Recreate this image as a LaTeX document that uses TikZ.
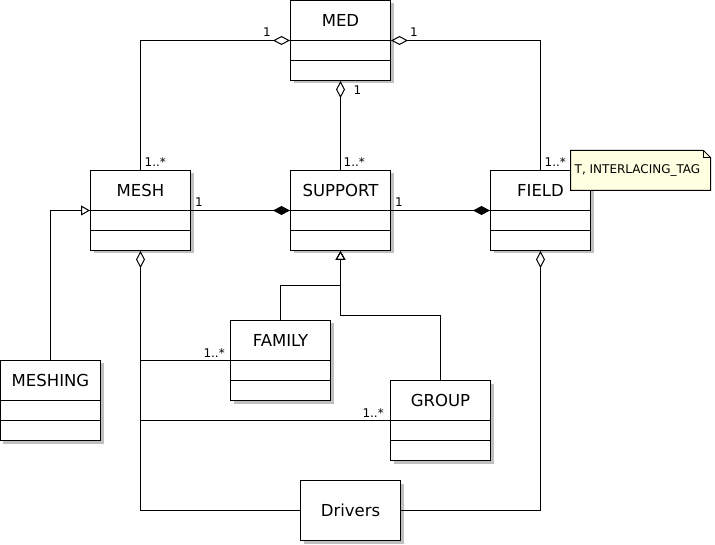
\documentclass[tikz,border=0pt]{standalone}
\usepackage{fontspec}
\setmainfont{DejaVu Sans}
\usepackage{xcolor}
\usepackage{tikz}
\usetikzlibrary{arrows.meta,positioning,calc,shadows}
\definecolor{noteyellow}{RGB}{255,255,225}
\definecolor{shadowgray}{RGB}{192,192,192}

\tikzset{
  classbox/.style={draw, fill=white, line width=1pt, minimum width=100pt, minimum height=80pt, inner sep=0pt,
    drop shadow={shadow xshift=3pt, shadow yshift=-3pt, fill=shadowgray, opacity=1}},
  driverbox/.style={classbox, minimum height=60pt, font=\fontsize{16.5}{18}\selectfont},
  classname/.style={font=\fontsize{16.5}{18}\selectfont, inner sep=0pt},
  mult/.style={font=\fontsize{12}{13}\selectfont, inner sep=1pt},
  aggr/.style={line width=1pt, -{Diamond[open, length=17pt, width=9pt]}},
  comp/.style={line width=1pt, -{Diamond[length=17pt, width=9pt]}},
  gen/.style={line width=1pt, -{Triangle[open, length=9pt, width=10pt]}},
}

\newcommand{\umlclass}[4]{%
  \node[classbox] (#1) at (#2,#3) {};
  \draw[line width=1pt] (#1.west) -- (#1.east);
  \draw[line width=1pt] ($(#1.west)+(0,20)$) -- ($(#1.east)+(0,20)$);
  \node[classname] (#1name) at ($(#1.center)+(0,-20)$) {#4};
}

\begin{document}
\begin{tikzpicture}[x=1pt, y=-1pt]
\useasboundingbox (-0.5,-0.5) rectangle (714.5,544.5);

\umlclass{med}{340}{40}{MED}
\umlclass{mesh}{140}{210}{MESH}
\umlclass{support}{340}{210}{SUPPORT}
\umlclass{field}{540}{210}{FIELD}
\umlclass{family}{280}{360}{FAMILY}
\umlclass{group}{440}{420}{GROUP}
\umlclass{meshing}{50}{400}{MESHING}
\node[driverbox] (drivers) at (350,510) {Drivers};

\draw[aggr] (mesh.north) |- (med.west);
\draw[aggr] (field.north) |- (med.east);
\draw[aggr] (support.north) -- (med.south);
\draw[comp] (mesh.east) -- (support.west);
\draw[comp] (support.east) -- (field.west);

\draw[gen] (meshing.north) |- (mesh.west);
\draw[gen] (family.north) |- ($(support.south)+(0,35)$) -- (support.south);
\draw[gen] (group.north) |- ($(support.south)+(0,65)$) -- (support.south);

\draw[line width=1pt, {Diamond[open, length=17pt, width=9pt]}-] (mesh.south) |- (drivers.west);
\draw[line width=1pt, {Diamond[open, length=17pt, width=9pt]}-] (field.south) |- (drivers.east);
\draw[line width=1pt] (mesh.south |- family.west) -- (family.west);
\draw[line width=1pt] (mesh.south |- group.west) -- (group.west);

\node[mult, above left=3pt and 18pt of med.west] (medmeshm) {1};
\node[mult, above right=3pt and 18pt of med.east] (medfieldm) {1};
\node[mult, below right=4pt and 12pt of med.south] (medsuppm) {1};
\node[mult, above right=2pt and 3pt of mesh.north] (meshm) {1..*};
\node[mult, above right=2pt and 2pt of support.north] (suppm) {1..*};
\node[mult, above right=2pt and 3pt of field.north] (fieldm) {1..*};
\node[mult, above right=3pt and 3pt of mesh.east] (meshsuppm) {1};
\node[mult, above right=3pt and 3pt of support.east] (suppfieldm) {1};
\node[mult, above left=2pt and 4pt of family.west] (familym) {1..*};
\node[mult, above left=2pt and 5pt of group.west] (groupm) {1..*};

\coordinate (notenw) at (570,150);
\coordinate (notese) at (710,190);
\fill[shadowgray, xshift=3pt, yshift=-3pt] (notenw) -- ($(notenw -| notese)+(-7,0)$) -- ($(notenw -| notese)+(0,7)$) -- (notese) -- (notese -| notenw) -- cycle;
\filldraw[fill=noteyellow, line width=1pt] (notenw) -- ($(notenw -| notese)+(-7,0)$) -- ($(notenw -| notese)+(0,7)$) -- (notese) -- (notese -| notenw) -- cycle;
\draw[line width=0.6pt] ($(notenw -| notese)+(-7,0)$) -- ($(notenw -| notese)+(-7,7)$) -- ($(notenw -| notese)+(0,7)$);
\node[mult, anchor=west] (tagnote) at ($(notenw)!0.5!(notenw |- notese)+(3,0)$) {T, INTERLACING\_TAG};
\end{tikzpicture}
\end{document}
